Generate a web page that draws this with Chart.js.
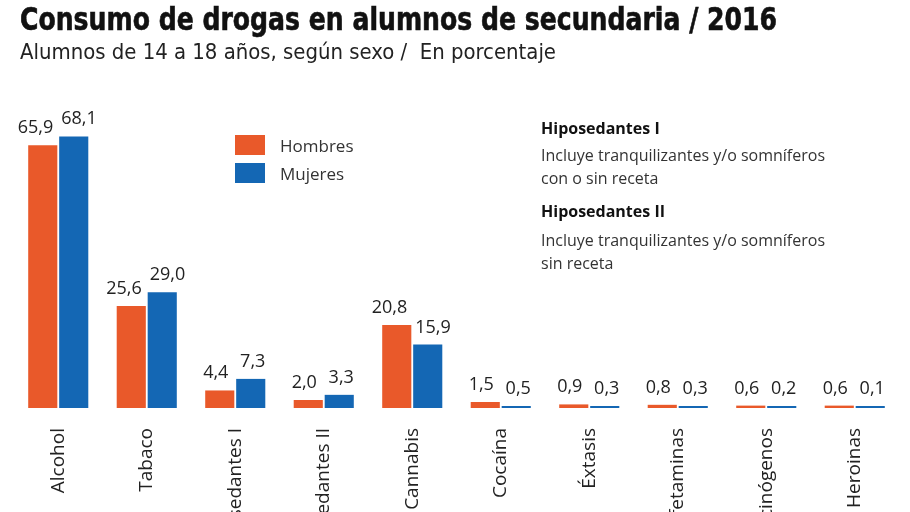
<!DOCTYPE html>
<html lang="es">
<head>
<meta charset="utf-8">
<title>Consumo de drogas en alumnos de secundaria / 2016</title>
<script src="https://cdn.jsdelivr.net/npm/chart.js@4.4.0/dist/chart.umd.min.js"></script>
<style>
  html, body { margin: 0; padding: 0; background: #fff; overflow: hidden; }
  body { width: 910px; height: 512px; position: relative; font-family: "Open Sans", sans-serif; color: #222; }
  #chartBox { position: absolute; left: 0; top: 0; width: 910px; height: 512px; }
  .fit { position: absolute; left: 20px; white-space: pre; transform-origin: left top; display: inline-block; }
  #title { top: 3px; font: bold 32px/32px "Liberation Sans Narrow", "DejaVu Sans Condensed", sans-serif; color: #111; -webkit-text-stroke: 0.6px #111; }
  #subtitle { top: 40px; font: 22px/24px "Liberation Sans Narrow", "DejaVu Sans Condensed", sans-serif; color: #222; }
  .legend-box { position: absolute; left: 235px; width: 30px; height: 20px; }
  .legend-text { position: absolute; left: 280px; font-size: 17px; line-height: 24px; color: #333; }
  .note { position: absolute; left: 541px; font-size: 16px; line-height: 23px; color: #333; white-space: nowrap; }
  .note b { color: #111; }
</style>
</head>
<body>
<div id="chartBox"><canvas id="chart"></canvas></div>

<div id="title" class="fit">Consumo de drogas en alumnos de secundaria / 2016</div>
<div id="subtitle" class="fit">Alumnos de 14 a 18 años, según sexo /  En porcentaje</div>

<!-- leyenda -->
<div class="legend-box" style="top:135px;background:#E9592A"></div>
<div class="legend-text" style="top:134px">Hombres</div>
<div class="legend-box" style="top:163px;background:#1467B4"></div>
<div class="legend-text" style="top:162px">Mujeres</div>

<!-- notas -->
<div class="note" style="top:117px"><b>Hiposedantes I</b></div>
<div class="note" style="top:144px">Incluye tranquilizantes y/o somníferos</div>
<div class="note" style="top:167px">con o sin receta</div>
<div class="note" style="top:200px"><b>Hiposedantes II</b></div>
<div class="note" style="top:229px">Incluye tranquilizantes y/o somníferos</div>
<div class="note" style="top:252px">sin receta</div>

<script>
// datos del grafico
const categorias = ['Alcohol', 'Tabaco', 'Hiposedantes I', 'Hiposedantes II', 'Cannabis',
                    'Cocaína', 'Éxtasis', 'Anfetaminas', 'Alucinógenos', 'Heroinas']
const hombres = [65.9, 25.6, 4.4, 2.0, 20.8, 1.5, 0.9, 0.8, 0.6, 0.6]
const mujeres = [68.1, 29.0, 7.3, 3.3, 15.9, 0.5, 0.3, 0.3, 0.2, 0.1]
const escalaY = [0, 80]

const naranja = '#E9592A'
const azul = '#1467B4'

//ajusta el ancho del titulo y subtitulo
function fitText(id, target){
    const el = document.getElementById(id)
    const w = el.getBoundingClientRect().width
    el.style.transform = `scaleX(${target / w})`
}
fitText('title', 757)
fitText('subtitle', 536)

//plugin para escribir los valores encima de las barras
const valueLabels = {
    id: 'valueLabels',
    afterDatasetsDraw(chart){
        const ctx = chart.ctx
        ctx.save()
        ctx.font = '18px "Open Sans", sans-serif'
        ctx.fillStyle = '#222'
        ctx.textAlign = 'center'
        ctx.textBaseline = 'alphabetic'
        chart.data.datasets.forEach((ds, i) => {
            const meta = chart.getDatasetMeta(i)
            meta.data.forEach((bar, j) => {
                const txt = ds.data[j].toFixed(1).replace('.', ',')
                const tw = ctx.measureText(txt).width
                const extra = Math.max(0, (tw - bar.width) / 2)
                const x = i === 0 ? bar.x - extra - 4 : bar.x + extra + 2
                ctx.fillText(txt, x, bar.y - 12)
            })
        })
        ctx.restore()
    }
}

const ctx = document.getElementById('chart').getContext('2d')
const chart = new Chart(ctx, {
    type: 'bar',
    data: {
        labels: categorias,
        datasets: [
            { label: 'Hombres', data: hombres, backgroundColor: naranja },
            { label: 'Mujeres', data: mujeres, backgroundColor: azul }
        ]
    },
    options: {
        responsive: true,
        maintainAspectRatio: false,
        animation: false,
        categoryPercentage: 0.7,
        barPercentage: 0.94,
        minBarLength: 2,
        layout: { padding: { top: 89, left: 14, right: 11, bottom: 0 } },
        plugins: {
            legend: { display: false },
            tooltip: { enabled: false }
        },
        scales: {
            x: {
                grid: { display: false, drawTicks: false },
                border: { display: false },
                ticks: {
                    minRotation: 90,
                    maxRotation: 90,
                    autoSkip: false,
                    padding: 20,
                    color: '#222',
                    font: { family: '"Open Sans", sans-serif', size: 19 }
                },
                afterFit(scale){ scale.height = 104 }
            },
            y: {
                display: false,
                min: escalaY[0],
                max: escalaY[1]
            }
        }
    },
    plugins: [valueLabels]
})
</script>
</body>
</html>
